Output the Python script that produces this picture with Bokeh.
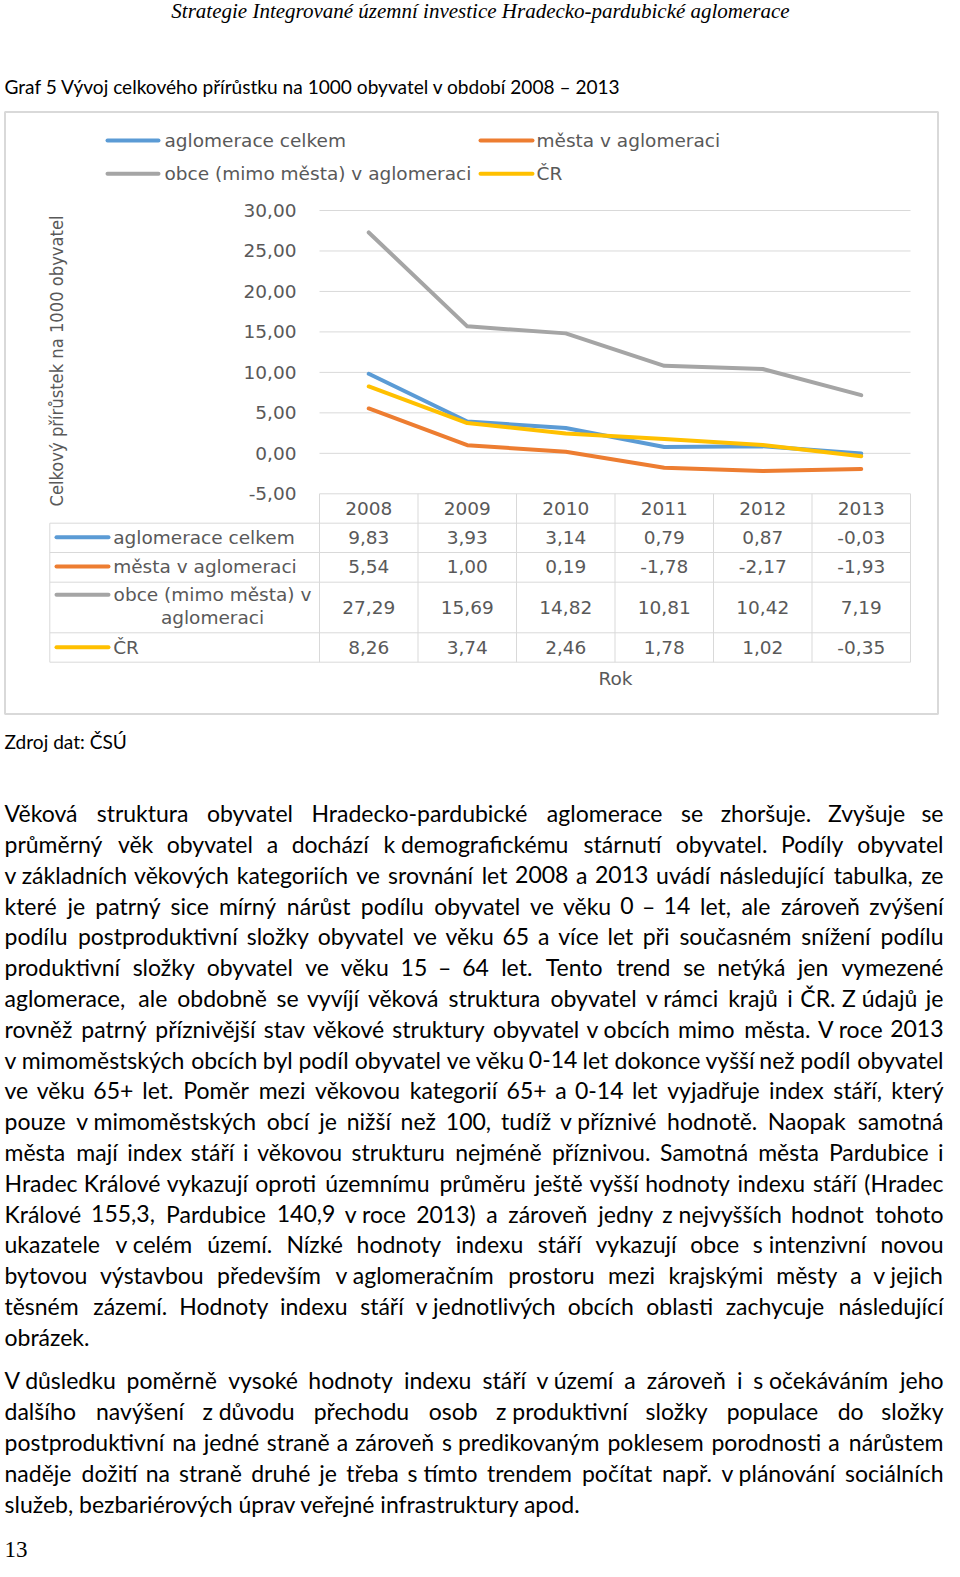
import math
import unicodedata
from bokeh.plotting import figure
from bokeh.models import Range1d
from bokeh.embed import file_html
from bokeh.resources import INLINE
from bokeh.core.properties import value

# ---------------- data ----------------
years = [2008, 2009, 2010, 2011, 2012, 2013]
series_names = ["aglomerace celkem", "města v aglomeraci",
                "obce (mimo města) v aglomeraci", "ČR"]
aglomerace_celkem = [9.83, 3.93, 3.14, 0.79, 0.87, -0.03]
mesta_v_aglomeraci = [5.54, 1.00, 0.19, -1.78, -2.17, -1.93]
obce_v_aglomeraci = [27.29, 15.69, 14.82, 10.81, 10.42, 7.19]
cr = [8.26, 3.74, 2.46, 1.78, 1.02, -0.35]
y_ticks = [-5, 0, 5, 10, 15, 20, 25, 30]
y_title = "Celkový přírůstek na 1000 obyvatel"
x_title = "Rok"

header = "Strategie Integrované územní investice Hradecko-pardubické aglomerace"
caption = "Graf 5 Vývoj celkového přírůstku na 1000 obyvatel v období 2008 – 2013"
source_note = "Zdroj dat: ČSÚ"
page_number = "13"
paragraph1 = [
    "Věková struktura obyvatel Hradecko-pardubické aglomerace se zhoršuje. Zvyšuje se",
    "průměrný věk obyvatel a dochází k demografickému stárnutí obyvatel. Podíly obyvatel",
    "v základních věkových kategoriích ve srovnání let 2008 a 2013 uvádí následující tabulka, ze",
    "které je patrný sice mírný nárůst podílu obyvatel ve věku 0 – 14 let, ale zároveň zvýšení",
    "podílu postproduktivní složky obyvatel ve věku 65 a více let při současném snížení podílu",
    "produktivní složky obyvatel ve věku 15 – 64 let. Tento trend se netýká jen vymezené",
    "aglomerace, ale obdobně se vyvíjí věková struktura obyvatel v rámci krajů i ČR. Z údajů je",
    "rovněž patrný příznivější stav věkové struktury obyvatel v obcích mimo města. V roce 2013",
    "v mimoměstských obcích byl podíl obyvatel ve věku 0-14 let dokonce vyšší než podíl obyvatel",
    "ve věku 65+ let. Poměr mezi věkovou kategorií 65+ a 0-14 let vyjadřuje index stáří, který",
    "pouze v mimoměstských obcí je nižší než 100, tudíž v příznivé hodnotě. Naopak samotná",
    "města mají index stáří i věkovou strukturu nejméně příznivou. Samotná města Pardubice i",
    "Hradec Králové vykazují oproti územnímu průměru ještě vyšší hodnoty indexu stáří (Hradec",
    "Králové 155,3, Pardubice 140,9 v roce 2013) a zároveň jedny z nejvyšších hodnot tohoto",
    "ukazatele v celém území. Nízké hodnoty indexu stáří vykazují obce s intenzivní novou",
    "bytovou výstavbou především v aglomeračním prostoru mezi krajskými městy a v jejich",
    "těsném zázemí. Hodnoty indexu stáří v jednotlivých obcích oblasti zachycuje následující",
    "obrázek.",
]
paragraph2 = [
    "V důsledku poměrně vysoké hodnoty indexu stáří v území a zároveň i s očekáváním jeho",
    "dalšího navýšení z důvodu přechodu osob z produktivní složky populace do složky",
    "postproduktivní na jedné straně a zároveň s predikovaným poklesem porodnosti a nárůstem",
    "naděje dožití na straně druhé je třeba s tímto trendem počítat např. v plánování sociálních",
    "služeb, bezbariérových úprav veřejné infrastruktury apod.",
]

series_values = [aglomerace_celkem, mesta_v_aglomeraci, obce_v_aglomeraci, cr]
colors = ["#5B9BD5", "#ED7D31", "#A5A5A5", "#FFC000"]

# ---------------- page figure ----------------
W, H = 944, 1561
X0, X1 = 0, W
Y0, Y1 = H, 0
p = figure(width=W, height=H, x_range=Range1d(X0, X1), y_range=Range1d(Y0, Y1),
           x_axis_type=None, y_axis_type=None, min_border=0,
           toolbar_location=None, output_backend="svg",
           outline_line_color=None, background_fill_color="white")
p.grid.visible = False

# chart geometry (page coordinates)
yr_center0, yr_step = 368.25, 98.5       # 2008 column centre and column width
val_top_y, val_bot_y = 210.0, 493.3       # where 30 and -5 sit
ppu = (val_bot_y - val_top_y) / 35.0
p.extra_x_ranges = {"yr": Range1d(2008 + (X0 - yr_center0) / yr_step,
                                  2008 + (X1 - yr_center0) / yr_step)}
p.extra_y_ranges = {"val": Range1d(30 - (Y0 - val_top_y) / ppu,
                                   30 + (val_top_y - Y1) / ppu)}

GRID = "#d9d9d9"
TXT = "#595959"
CF = value("DejaVu Sans")
CS = value("18.5px")

def fmt(v):
    return f"{v:.2f}".replace(".", ",")

# chart border
p.quad(left=[4.5], right=[937.5], top=[111.5], bottom=[713.5],
       fill_color=None, line_color=GRID, line_width=2)

# gridlines (the -5 line is the table's top edge)
lo, hi = years[0] - 0.5, years[-1] + 0.5
p.segment(x0=[lo] * len(y_ticks), x1=[hi] * len(y_ticks), y0=y_ticks, y1=y_ticks,
          x_range_name="yr", y_range_name="val", line_color=GRID, line_width=1)

# tick labels
p.text(x=[296] * len(y_ticks), y=y_ticks, text=[fmt(t) for t in y_ticks],
       y_range_name="val", text_font=CF, text_font_size=CS, text_color=TXT,
       text_align="right", text_baseline="middle")

# series
for vals, c in zip(series_values, colors):
    p.line(years, vals, x_range_name="yr", y_range_name="val",
           line_color=c, line_width=4, line_cap="round", line_join="round")

# legend (top)
leg_x = [(107, 158, 164), (480, 532, 536), (107, 158, 164), (480, 532, 536)]
leg_y = [140, 140, 173.3, 173.3]
for (a, b, t), yy, name, c in zip(leg_x, leg_y, series_names, colors):
    p.segment(x0=[a], x1=[b], y0=[yy], y1=[yy], line_color=c, line_width=4, line_cap="round")
    p.text(x=[t], y=[yy], text=[name], text_font=CF, text_font_size=CS,
           text_color=TXT, text_baseline="middle")

# y title
p.text(x=[56], y=[360.5], text=[y_title], angle=math.pi / 2,
       text_font=value("Liberation Sans Narrow, DejaVu Sans Condensed, sans-serif"),
       text_font_size=value("18.2px"), text_color=TXT,
       text_align="center", text_baseline="middle")

# data table
t_left, t_right = 49.3, 910.0
t_top = 493.3
row_edges = [522.7, 552.0, 581.7, 632.3, 661.7]
p.segment(x0=[t_left] * len(row_edges), x1=[t_right] * len(row_edges),
          y0=row_edges, y1=row_edges, line_color=GRID, line_width=1)
p.segment(x0=[t_left], x1=[t_left], y0=[row_edges[0]], y1=[row_edges[-1]],
          line_color=GRID, line_width=1)
col_edges = [y - 0.5 for y in years] + [years[-1] + 0.5]
p.segment(x0=col_edges, x1=col_edges, y0=[t_top] * len(col_edges),
          y1=[row_edges[-1]] * len(col_edges), x_range_name="yr",
          line_color=GRID, line_width=1)
p.text(x=years, y=[508.3] * len(years), text=[str(y) for y in years],
       x_range_name="yr", text_font=CF, text_font_size=CS, text_color=TXT,
       text_align="center", text_baseline="middle")
row_centres = [536.7, 566.0, 606.5, 646.7]
key_y = [536.7, 566.0, 594.3, 646.7]
for vals, yc, ky, name, c in zip(series_values, row_centres, key_y, series_names, colors):
    p.text(x=years, y=[yc] * len(years), text=[fmt(v) for v in vals],
           x_range_name="yr", text_font=CF, text_font_size=CS, text_color=TXT,
           text_align="center", text_baseline="middle")
    p.segment(x0=[56], x1=[108], y0=[ky], y1=[ky], line_color=c, line_width=4, line_cap="round")
    if name.startswith("obce"):
        p.text(x=[212, 212], y=[594.3, 616.7], text=["obce (mimo města) v", "aglomeraci"],
               text_font=CF, text_font_size=CS, text_color=TXT,
               text_align="center", text_baseline="middle")
    else:
        p.text(x=[112.7], y=[ky], text=[name], text_font=CF, text_font_size=CS,
               text_color=TXT, text_baseline="middle")
p.text(x=[615], y=[677.7], text=[x_title], text_font=CF, text_font_size=CS,
       text_color=TXT, text_align="center", text_baseline="middle")

# ---------------- document text ----------------
# approximate advance widths (em of a 25px body font) used to justify lines
CAL = {" ": .18, "a": .479, "b": .525, "c": .423, "d": .525, "e": .498, "f": .305,
       "g": .471, "h": .525, "i": .229, "j": .239, "k": .455, "l": .229, "m": .799,
       "n": .525, "o": .527, "p": .525, "q": .525, "r": .349, "s": .391, "t": .335,
       "u": .525, "v": .452, "w": .715, "x": .433, "y": .453, "z": .395,
       "A": .579, "B": .544, "C": .533, "D": .615, "E": .488, "F": .459, "G": .631,
       "H": .623, "I": .252, "J": .319, "K": .520, "L": .420, "M": .855, "N": .646,
       "O": .662, "P": .517, "Q": .672, "R": .543, "S": .459, "T": .487, "U": .642,
       "V": .567, "W": .890, "X": .519, "Y": .487, "Z": .468,
       ",": .230, ".": .230, ":": .250, "-": .300, "–": .460, "(": .290, ")": .290,
       "+": .530}
for d in "0123456789":
    CAL[d] = .535

def em_width(s):
    w = 0.0
    for ch in s:
        base = unicodedata.normalize("NFD", ch)[0]
        w += CAL.get(base, .5)
    return w

BOUND = {"v", "k", "z", "s", "V", "Z", "K", "S"}

def units(line):
    toks = line.split(" ")
    out, i = [], 0
    while i < len(toks):
        if toks[i] in BOUND and i + 1 < len(toks):
            out.append(toks[i] + " " + toks[i + 1]); i += 2
        else:
            out.append(toks[i]); i += 1
    return out

BODY = 25.0
LEFT, RIGHT = 4.0, 943.0
BODY_FONT = value("Lato")
BODY_SIZE = value("23px")

def lay_paragraph(lines, y_first, step):
    groups = {"left": ([], [], []), "center": ([], [], []), "right": ([], [], [])}
    for i, line in enumerate(lines):
        yy = y_first + i * step
        us = units(line)
        if i == len(lines) - 1 or len(us) == 1:
            g = groups["left"]
            g[0].append(LEFT); g[1].append(yy); g[2].append(line)
            continue
        ws = [em_width(u) * BODY for u in us]
        gap = (RIGHT - LEFT - sum(ws)) / (len(us) - 1)
        x = LEFT
        for j, (u, w) in enumerate(zip(us, ws)):
            if j == 0:
                g, ax = groups["left"], x
            elif j == len(us) - 1:
                g, ax = groups["right"], RIGHT
            else:
                g, ax = groups["center"], x + w / 2
            g[0].append(ax); g[1].append(yy); g[2].append(u)
            x += w + gap
    for align, (xs, ys, ts) in groups.items():
        if xs:
            p.text(x=xs, y=ys, text=ts, text_font=BODY_FONT, text_font_size=BODY_SIZE,
                   text_color="#000000", text_align=align, text_baseline="middle")

lay_paragraph(paragraph1, 812.6, 30.8)
lay_paragraph(paragraph2, 1379.9, 30.8)

SMALL = value("19.1px")
p.text(x=[4], y=[85.5], text=[caption], text_font=BODY_FONT,
       text_font_size=SMALL, text_color="#000000", text_baseline="middle")
p.text(x=[4], y=[741.2], text=[source_note], text_font=BODY_FONT,
       text_font_size=SMALL, text_color="#000000", text_baseline="middle")
p.text(x=[480], y=[10], text=[header], text_font=value("Liberation Serif"),
       text_font_style="italic", text_font_size=value("21px"), text_color="#000000",
       text_align="center", text_baseline="middle")
p.text(x=[4], y=[1549], text=[page_number], text_font=value("Liberation Serif"),
       text_font_size=value("23px"), text_color="#000000", text_baseline="middle")

open("out.html", "w").write(file_html(p, INLINE))
